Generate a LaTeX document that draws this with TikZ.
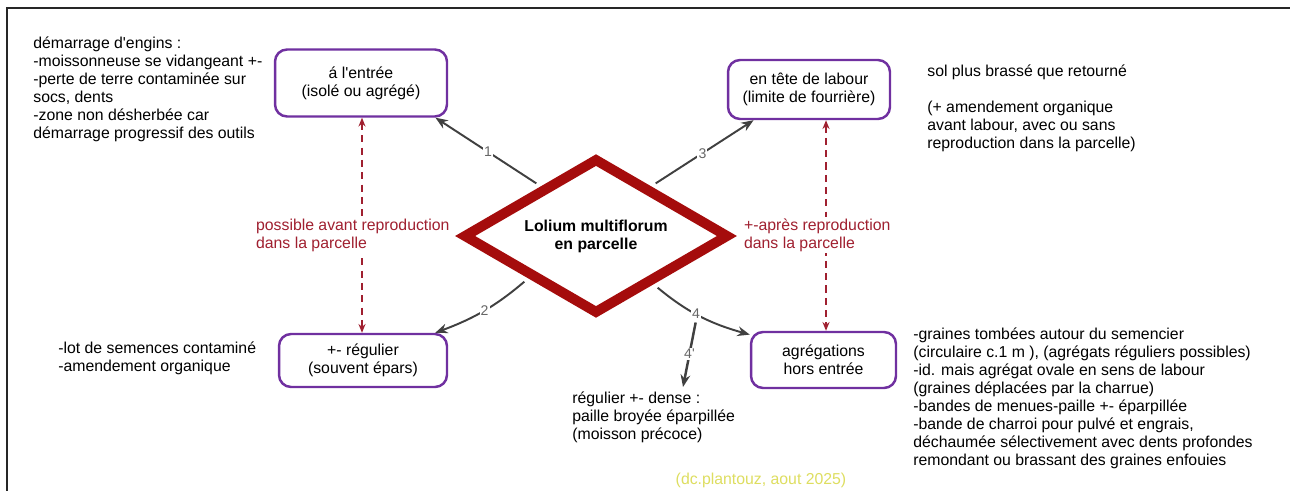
\documentclass[tikz,border=0pt]{standalone}
\usepackage{fontspec}
\setmainfont{Liberation Sans}[Ligatures=TeXOff]
\usetikzlibrary{shapes.geometric,arrows.meta}
\definecolor{boxpurple}{RGB}{112,48,160}
\definecolor{dmred}{RGB}{165,12,12}
\definecolor{dred}{RGB}{160,32,48}
\definecolor{arrgray}{RGB}{64,64,64}
\definecolor{credit}{RGB}{222,222,96}
\newcommand\fs{\fontsize{9pt}{10.2pt}\selectfont}
\tikzset{
  bx/.style={draw=boxpurple, line width=1.4pt, rounded corners=0.24cm, fill=white,
    align=center, inner sep=2pt, font=\fs},
  txt/.style={anchor=base west, align=left, inner sep=0pt, font=\fs},
  arr/.style={draw=arrgray, line width=1.1pt, -{Stealth[length=7pt,width=5.5pt]}, shorten <=3pt},
  lab/.style={font=\fontsize{8pt}{9pt}\selectfont, text=black!60, fill=white, inner sep=0.6pt},
  dsh/.style={draw=dred, line width=0.8pt, dash pattern=on 4pt off 3pt,
    {Stealth[length=5pt,width=4pt]}-{Stealth[length=5pt,width=4pt]}},
  dlab/.style={anchor=west, align=left, text=dred, fill=white, inner sep=1pt, font=\fs}
}
\begin{document}
\begin{tikzpicture}[x=0.02cm, y=-0.02cm]
\useasboundingbox (0,0) rectangle (1290,490);
\fill[white] (0,0) rectangle (1290,490);
% frame
\draw[line width=1pt, black!85] (7,500) -- (7,8) -- (1300,8);

% boxes
\node[bx, minimum width=3.44cm, minimum height=1.34cm] (b1) at (361,83) {á l'entrée\\(isolé ou agrégé)};
\node[bx, minimum width=3.24cm, minimum height=1.18cm] (b2) at (809,89.5) {en tête de labour\\(limite de fourrière)};
\node[bx, minimum width=3.36cm, minimum height=1.06cm] (b3) at (363,360.5) {+- régulier\\(souvent épars)};
\node[bx, minimum width=2.90cm, minimum height=1.12cm] (b4) at (823.5,360) {agrégations\\hors entrée};

% diamond
\node[shape=diamond, shape aspect=1.7, draw=dmred, line width=5.7pt, line join=miter, fill=white,
  minimum width=5.32cm, minimum height=3.12cm, inner sep=0pt, align=center,
  font=\fs\bfseries] (lol) at (596,236) {Lolium multiflorum\\en parcelle};

% dashed links
\coordinate (lx) at (362,0);
\coordinate (rx) at (826,0);
\draw[dsh] (b1.south -| lx) -- (b3.north -| lx);
\draw[dsh] (b2.south -| rx) -- (b4.north -| rx);
\node[dlab] (dl) at (254,235) {possible avant reproduction\\dans la parcelle};
\node[dlab] (dr) at (742,235) {+-après reproduction\\dans la parcelle};

% arrows
\draw[arr] (lol.138) -- node[lab] (l1) {1} (b1.-25);
\draw[arr] (lol.42) -- node[lab] (l3) {3} (b2.209.5);
\draw[arr] (lol.212.5) to[bend left=10] node[lab] (l2) {2} (b3.21.7);
\draw[arr] (lol.320) to[bend right=12] node[lab, pos=0.47] (l4) {4} (b4.161.4);
\coordinate (e4) at (683,387);
\draw[arr, line width=1.4pt, shorten <=1pt] (l4.south) -- node[lab] (l4p) {4'} (e4);

% texts (anchor = baseline of last line)
\node[txt] (ttl) at (33,138) {démarrage d'engins :\\-moissonneuse se vidangeant +-\\-perte de terre contaminée sur\\socs, dents\\-zone non désherbée car\\démarrage progressif des outils};
\node[txt] (ttr) at (927,148) {sol plus brassé que retourné\\[10.2pt](+ amendement organique\\avant labour, avec ou sans\\reproduction dans la parcelle)};
\node[txt] (tbl) at (58,371) {-lot de semences contaminé\\-amendement organique};
\node[txt] (tbm) at (572,439) {régulier +- dense :\\paille broyée éparpillée\\(moisson précoce)};
\node[txt] (tbr) at (913,465) {-graines tombées autour du semencier\\(circulaire c.1 m ), (agrégats réguliers possibles)\\-id. mais agrégat ovale en sens de labour\\(graines déplacées par la charrue)\\-bandes de menues-paille +- éparpillée\\-bande de charroi pour pulvé et engrais,\\déchaumée sélectivement avec dents profondes\\remondant ou brassant des graines enfouies};
\node[font=\fs, text=credit, inner sep=0pt] (cr) at (761,480) {(dc.plantouz, aout 2025)};
\end{tikzpicture}
\end{document}
